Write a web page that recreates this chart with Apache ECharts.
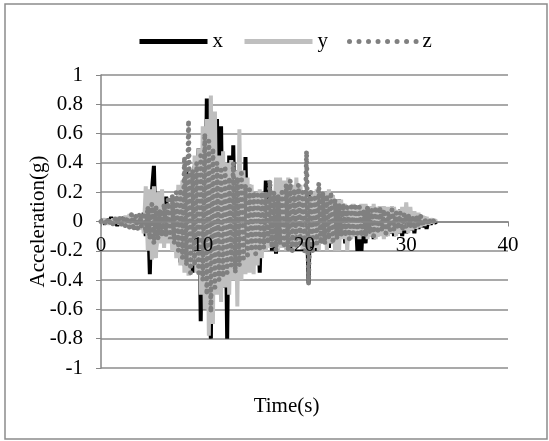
<!DOCTYPE html>
<html>
<head>
<meta charset="utf-8">
<script src="https://cdn.jsdelivr.net/npm/echarts@6/dist/echarts.min.js"></script>
<style>
  html, body { margin: 0; padding: 0; background: #fff; }
  #chart { width: 549px; height: 441px; }
</style>
</head>
<body>
<div id="chart"></div>
<script>
// sample step (s) of the records below
var dt = 0.2;

// x component (g)
var accX = [
    0, 0.01, -0.02, 0.02, -0.01, 0.03, -0.02, 0.01, -0.03, 0.02, -0.02, 0.03, -0.01, 0.02, -0.03, 0.02, -0.02, 0.03, -0.04, 0.03, -0.05,
    0.06, -0.1, 0.12, -0.36, 0.2, 0.38, -0.2, 0.15, -0.12, 0.1,
    -0.08, 0.17, -0.1, 0.12, -0.15, 0.1, -0.2, 0.15, -0.28, 0.2,
    -0.3, 0.35, -0.25, 0.3, -0.35, 0.38, -0.3, 0.5, -0.68, 0.45,
    -0.6, 0.84, -0.55, -0.8, 0.6, -0.4, 0.7, -0.48, 0.65, -0.45,
    0.4, -0.8, 0.45, -0.35, 0.52, -0.3, 0.35, -0.3, 0.3, -0.25,
    0.44, -0.3, 0.25, -0.25, 0.2, -0.2, 0.18, -0.35, 0.15, -0.2,
    0.28, -0.15, 0.25, -0.2, 0.18, -0.22, 0.15, -0.15, 0.12, -0.18,
    0.2, -0.15, 0.15, -0.2, 0.12, -0.15, 0.2, -0.12, 0.15, -0.18,
    0.1, -0.42, 0.2, -0.18, 0.15, -0.2, 0.18, -0.15, 0.2, -0.12,
    0.15, -0.18, 0.12, -0.15, 0.14, -0.12, 0.15, -0.1, 0.12, -0.15,
    0.1, -0.12, 0.1, -0.1, 0.1, -0.2, 0.08, -0.2, 0.1, -0.15,
    0.08, -0.1, 0.1, -0.12, 0.08, -0.1, 0.1, -0.08, 0.1, -0.1,
    0.08, -0.08, 0.1, -0.1, 0.07, -0.08, 0.08, -0.1, 0.06, -0.08,
    0.05, -0.06, 0.06, -0.08, 0.05, -0.05, 0.04, -0.04, 0.03, -0.05,
    0.02, -0.02, 0.01, -0.01, 0
];

// y component (g)
var accY = [
    0, -0.01, 0.02, -0.02, 0.01, -0.02, 0.02, -0.01, 0.03, -0.02, 0.02, -0.03, 0.04, -0.02, 0.05, -0.03, 0.04, -0.04, 0.05, -0.05, 0.04,
    -0.08, 0.24, -0.2, 0.22, -0.26, 0.24, -0.25, 0.2, -0.15, 0.22,
    -0.18, 0.1, -0.15, 0.12, -0.2, 0.15, -0.25, 0.25, -0.3, 0.28,
    -0.35, 0.3, -0.37, 0.35, -0.3, 0.45, -0.35, 0.5, -0.5, 0.65,
    -0.6, 0.7, -0.78, 0.86, -0.7, 0.75, -0.5, 0.45, -0.55, 0.48,
    -0.45, 0.4, -0.5, 0.42, -0.4, 0.35, -0.58, 0.63, -0.4, 0.35,
    -0.36, 0.3, -0.35, 0.25, -0.36, 0.2, -0.3, 0.22, -0.25, 0.2,
    -0.2, 0.15, -0.18, 0.2, -0.15, 0.3, -0.2, 0.3, -0.18, 0.28,
    -0.2, 0.3, -0.15, 0.25, -0.2, 0.3, -0.15, 0.25, -0.2, 0.2,
    -0.2, 0.15, -0.15, 0.2, -0.18, 0.22, -0.2, 0.18, -0.15, 0.2,
    -0.2, 0.22, -0.15, 0.18, -0.2, 0.15, -0.2, 0.15, -0.12, 0.12,
    -0.2, 0.1, -0.12, 0.12, -0.1, 0.1, -0.12, 0.12, -0.1, 0.12,
    -0.12, 0.1, -0.1, 0.12, -0.12, 0.1, -0.1, 0.1, -0.12, 0.1,
    -0.1, 0.1, -0.08, 0.1, -0.1, 0.08, -0.08, 0.1, -0.06, 0.13,
    -0.08, 0.1, -0.06, 0.07, -0.05, 0.06, -0.04, 0.04, -0.03, 0.03,
    -0.02, 0.02, -0.01, 0.01, 0
];

// z component (g)
var accZ = [
    0, 0.01, -0.01, 0.02, -0.02, 0.01, -0.02, 0.02, -0.01, 0.03, -0.02, 0.02, -0.03, 0.03, -0.04, 0.05, -0.06, 0.04, -0.05, 0.05, -0.04,
    0.06, -0.08, 0.1, -0.12, 0.12, -0.15, 0.1, -0.12, 0.08, -0.1,
    0.12, -0.1, 0.15, -0.12, 0.18, -0.15, 0.2, -0.2, 0.22, -0.25,
    0.44, -0.3, 0.69, -0.35, 0.35, -0.3, 0.4, -0.35, 0.45, -0.4,
    0.6, -0.5, 0.55, -0.62, 0.5, -0.45, 0.4, -0.4, 0.35, -0.38,
    0.38, -0.35, 0.3, -0.3, 0.4, -0.35, 0.3, -0.3, 0.35, -0.25,
    0.25, -0.25, 0.22, -0.2, 0.2, -0.22, 0.18, -0.2, 0.2, -0.18,
    0.2, -0.15, 0.28, -0.18, 0.2, -0.2, 0.18, -0.15, 0.22, -0.18,
    0.25, -0.2, 0.28, -0.2, 0.22, -0.18, 0.25, -0.15, 0.2, -0.2,
    0.48, -0.43, 0.2, -0.2, 0.18, -0.15, 0.26, -0.15, 0.2, -0.15,
    0.18, -0.12, 0.2, -0.15, 0.15, -0.12, 0.12, -0.1, 0.12, -0.1,
    0.1, -0.12, 0.1, -0.1, 0.12, -0.08, 0.1, -0.1, 0.08, -0.1,
    0.1, -0.08, 0.08, -0.1, 0.1, -0.08, 0.1, -0.06, 0.08, -0.08,
    0.06, -0.06, 0.08, -0.06, 0.06, -0.05, 0.06, -0.06, 0.05, -0.05,
    0.05, -0.04, 0.04, -0.05, 0.04, -0.03, 0.04, -0.03, 0.02, -0.02,
    0.02, -0.01, 0.01, -0.01, 0
];

var seriesNames = ['x', 'y', 'z'];
var xTicks = [0, 10, 20, 30, 40];

var font = 'Liberation Serif';

function toPoints(vals) {
    return vals.map(function (v, i) {
        return [Math.round(i * dt * 10) / 10, v];
    });
}

var myChart = echarts.init(document.getElementById('chart'));
var option = {
    animation: false,
    backgroundColor: '#fff',
    graphic: [{
        type: 'rect',
        shape: { x: 5, y: 4, width: 542, height: 435 },
        style: { fill: 'none', stroke: '#8c8c8c', lineWidth: 1.5 },
        silent: true
    }],
    legend: {
        data: [
            { name: seriesNames[0] },
            { name: seriesNames[1] },
            // sparser dots in the key than in the plot
            { name: seriesNames[2], lineStyle: { type: [0.01, 9.5], cap: 'round' } }
        ],
        top: 26,
        left: 132,
        itemWidth: 68,
        itemHeight: 14,
        itemGap: 19,
        lineStyle: { width: 5 },
        // hide the marker circle, keep only the line
        itemStyle: { opacity: 0 },
        textStyle: { fontFamily: font, fontSize: 21, color: '#000' }
    },
    grid: {
        left: 101,
        right: 41,
        top: 75,
        bottom: 73,
        containLabel: false,
        outerBoundsMode: 'none'
    },
    xAxis: {
        type: 'value',
        min: xTicks[0],
        max: xTicks[xTicks.length - 1],
        interval: 10,
        z: 5,
        // axis drawn through y = 0 (middle of the grid)
        offset: -146.5,
        name: 'Time(s)',
        nameLocation: 'middle',
        nameGap: 174,
        nameMoveOverlap: false,
        nameTextStyle: { fontFamily: font, fontSize: 21, color: '#000', padding: [0, 36, 0, 0] },
        axisLine: { onZero: false, lineStyle: { color: '#868686', width: 1.5 } },
        axisTick: { show: true, length: 5, lineStyle: { color: '#868686' } },
        axisLabel: { fontFamily: font, fontSize: 21, color: '#000', margin: 13 },
        splitLine: { show: false }
    },
    yAxis: {
        type: 'value',
        min: -1,
        max: 1,
        interval: 0.2,
        name: 'Acceleration(g)',
        nameLocation: 'middle',
        nameGap: 52,
        nameMoveOverlap: false,
        nameTextStyle: { fontFamily: font, fontSize: 21, color: '#000' },
        axisLine: { show: true, onZero: false, lineStyle: { color: '#868686', width: 1.5 } },
        axisTick: { show: true, length: 5, lineStyle: { color: '#868686' } },
        axisLabel: { fontFamily: font, fontSize: 21, color: '#000', margin: 18 },
        splitLine: { show: true, lineStyle: { color: '#8c8c8c', width: 1.5 } }
    },
    series: [
        {
            name: 'x',
            type: 'line',
            symbol: 'none',
            data: toPoints(accX),
            itemStyle: { color: '#000' },
            lineStyle: { color: '#000', width: 4 }
        },
        {
            name: 'y',
            type: 'line',
            symbol: 'none',
            data: toPoints(accY),
            itemStyle: { color: '#bfbfbf' },
            lineStyle: { color: '#bfbfbf', width: 4 }
        },
        {
            name: 'z',
            type: 'line',
            symbol: 'none',
            data: toPoints(accZ),
            itemStyle: { color: '#808080' },
            lineStyle: { color: '#808080', width: 5, type: [0.01, 6.5], cap: 'round' }
        }
    ]
};
myChart.setOption(option);
</script>
</body>
</html>
